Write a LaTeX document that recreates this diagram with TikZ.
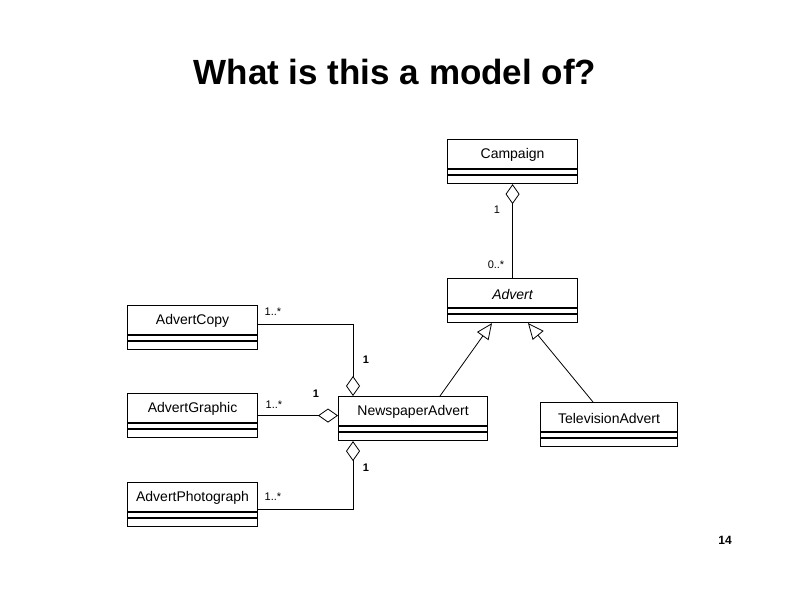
\documentclass[tikz,border=0pt]{standalone}
\usepackage{fontspec}
\setmainfont{Liberation Sans}
\usetikzlibrary{arrows.meta, positioning, calc}
\tikzset{
  cls/.style={draw, line width=1.1bp, inner sep=0pt, minimum height=44bp},
  compart/.style={line width=1.1bp},
  clsname/.style={inner sep=0pt, font=\fontsize{14bp}{16bp}\selectfont},
  aggr/.style={line width=0.8bp, -{Diamond[open, length=20bp, width=14bp]}},
  gen/.style={line width=0.8bp, -{Triangle[open, length=16bp, width=14bp]}},
  mult/.style={inner sep=0pt, font=\fontsize{11bp}{12bp}\selectfont},
  one/.style={mult, font=\bfseries\fontsize{11bp}{12bp}\selectfont},
  title/.style={font=\bfseries\fontsize{35bp}{40bp}\selectfont},
}
% one UML class: name compartment plus two empty compartments
\newcommand{\classbox}[5]{%
  \node[cls, minimum width=#4bp, anchor=north west] (#1) at (#2,#3) {};
  \node[clsname] (#1-name) at ($(#1.north)+(0,16)$) {#5};
  \draw[compart] ($(#1.north west)+(0,30)$) -- ($(#1.north east)+(0,30)$);
  \draw[compart] ($(#1.north west)+(0,36)$) -- ($(#1.north east)+(0,36)$);
}

\begin{document}
\begin{tikzpicture}[x=1bp, y=-1bp]
  \useasboundingbox (0,0) rectangle (792,612);

  \node[title] (title) at (395,72) {What is this a model of?};

  % ---------- classes ----------
  \classbox{campaign}{447}{139}{130}{Campaign}
  \classbox{advert}{447}{278}{130}{\itshape Advert}
  \classbox{copy}{127}{305}{130}{AdvertCopy}
  \classbox{graphic}{127}{393}{130}{AdvertGraphic}
  \classbox{photo}{127}{482}{130}{AdvertPhotograph}
  \classbox{news}{338}{396}{149}{NewspaperAdvert}
  \classbox{tv}{540}{402}{137}{TelevisionAdvert}

  % ---------- aggregations ----------
  \draw[aggr] (advert.north) -- (campaign.south);
  \node[mult] (m-camp) at (497,210) {1};
  \node[mult] (m-adv) at (496,265) {0..*};

  \draw[aggr] ([yshift=3bp]copy.east) -| ([xshift=15bp]news.north west);
  \node[mult] (m-copy) at (273,312) {1..*};
  \node[one] (o-copy) at (366,360) {1};

  \draw[aggr] (graphic.east) -- (graphic.east -| news.west);
  \node[mult] (m-graph) at (274,405) {1..*};
  \node[one] (o-graph) at (316,394) {1};

  \draw[aggr] ([yshift=-5bp]photo.east) -| ([xshift=15bp]news.south west);
  \node[mult] (m-photo) at (273,497) {1..*};
  \node[one] (o-photo) at (366,468) {1};

  % ---------- generalisations ----------
  \draw[gen] ([xshift=102bp]news.north west) -- ([xshift=45bp]advert.south west);
  \draw[gen] ([xshift=53bp]tv.north west) -- ([xshift=81bp]advert.south west);

  \node[font=\bfseries\fontsize{12bp}{14bp}\selectfont] (page) at (725,540) {14};
\end{tikzpicture}
\end{document}
